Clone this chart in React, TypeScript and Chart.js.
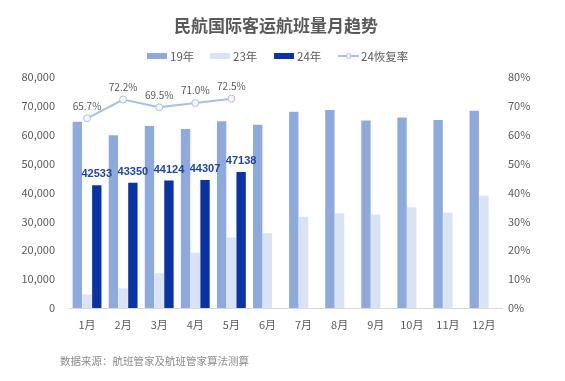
import React, { useEffect, useRef } from "react";
import { Chart, registerables } from "chart.js";
Chart.register(...registerables);

const titleText = "民航国际客运航班量月趋势";
const sourceText = "数据来源：航班管家及航班管家算法测算";
const months = ["1月", "2月", "3月", "4月", "5月", "6月", "7月", "8月", "9月", "10月", "11月", "12月"];
const seriesNames = ["19年", "23年", "24年", "24恢复率"];
const flights2019 = [64500, 59800, 63000, 62000, 64700, 63500, 68000, 68600, 64900, 66000, 65100, 68300];
const flights2023 = [4700, 6800, 12000, 19200, 24400, 25900, 31600, 32800, 32400, 34900, 33100, 38900];
const flights2024 = [42533, 43350, 44124, 44307, 47138, null, null, null, null, null, null, null];
const recovery2024 = [65.7, 72.2, 69.5, 71.0, 72.5, null, null, null, null, null, null, null];

const C19 = "#8eaadc";
const C23 = "#dae3f3";
const C24 = "#0a33a6";
const CLINE = "#a9bfe4";
const FONT = "'Noto Sans CJK SC', 'Noto Sans', sans-serif";
const NUMFONT = "'Liberation Sans', 'DejaVu Sans', sans-serif";

const overlay = {
  id: "overlay",
  afterDraw(chart: any) {
    const ctx = chart.ctx;
    ctx.save();
    // title
    ctx.fillStyle = "#595959";
    ctx.font = `bold 17px ${FONT}`;
    ctx.textAlign = "center";
    ctx.textBaseline = "middle";
    ctx.fillText(titleText, 276, 26);

    // legend
    ctx.font = `11.5px ${FONT}`;
    ctx.textAlign = "left";
    const ly = 56;
    const items = [
      { x: 147, color: C19, type: "box" },
      { x: 210, color: C23, type: "box" },
      { x: 274, color: C24, type: "box" },
      { x: 338, color: CLINE, type: "line" },
    ];
    items.forEach((it, i) => {
      if (it.type === "box") {
        ctx.fillStyle = it.color;
        ctx.fillRect(it.x, ly - 3, 20, 6);
      } else {
        ctx.strokeStyle = it.color;
        ctx.lineWidth = 2;
        ctx.beginPath();
        ctx.moveTo(it.x, ly);
        ctx.lineTo(it.x + 21, ly);
        ctx.stroke();
        ctx.fillStyle = "#fff";
        ctx.lineWidth = 1;
        ctx.beginPath();
        ctx.arc(it.x + 10.5, ly, 2.5, 0, Math.PI * 2);
        ctx.fill();
        ctx.stroke();
      }
      ctx.fillStyle = "#595959";
      ctx.fillText(seriesNames[i], it.x + 23, ly + 1);
    });

    // data labels for 24年
    const m2 = chart.getDatasetMeta(2);
    ctx.font = `bold 11px ${NUMFONT}`;
    ctx.fillStyle = "#1f44ad";
    ctx.textAlign = "center";
    ctx.textBaseline = "middle";
    m2.data.forEach((el: any, i: number) => {
      const v = flights2024[i];
      if (v == null) return;
      ctx.fillText(String(v), el.x, el.y - 11);
    });

    // data labels for line
    const m3 = chart.getDatasetMeta(3);
    ctx.font = `10px ${FONT}`;
    ctx.fillStyle = "#595959";
    m3.data.forEach((el: any, i: number) => {
      const v = recovery2024[i];
      if (v == null) return;
      ctx.fillText(v.toFixed(1) + "%", el.x, el.y - 12.5);
    });

    // source
    ctx.font = `10.5px ${FONT}`;
    ctx.fillStyle = "#8c8c8c";
    ctx.textAlign = "left";
    ctx.fillText(sourceText, 60, 361);
    ctx.restore();
  },
};

export default function App() {
  const ref = useRef<HTMLCanvasElement>(null);
  useEffect(() => {
    if (!ref.current) return;
    const chart = new Chart(ref.current, {
      type: "bar",
      data: {
        labels: months,
        datasets: [
          { label: seriesNames[0], data: flights2019, backgroundColor: C19, yAxisID: "y", order: 2 },
          { label: seriesNames[1], data: flights2023, backgroundColor: C23, yAxisID: "y", order: 2 },
          { label: seriesNames[2], data: flights2024 as any, backgroundColor: C24, yAxisID: "y", order: 2 },
          {
            type: "line",
            label: seriesNames[3],
            data: recovery2024 as any,
            borderColor: CLINE,
            backgroundColor: "#ffffff",
            borderWidth: 2,
            pointRadius: 3.5,
            pointBorderWidth: 1,
            pointBackgroundColor: "#f4f7fc",
            pointBorderColor: CLINE,
            yAxisID: "y1",
            order: 1,
            spanGaps: false,
          } as any,
        ],
      },
      options: {
        responsive: false,
        animation: false,
        maintainAspectRatio: false,
        layout: { padding: { top: 77, left: 0, right: 0, bottom: 0 } },
        datasets: { bar: { categoryPercentage: 0.81, barPercentage: 0.96 } } as any,
        plugins: { legend: { display: false }, title: { display: false }, tooltip: { enabled: false } },
        scales: {
          x: {
            grid: { display: false, drawTicks: false },
            border: { display: true, color: "#d9d9d9" },
            ticks: { color: "#595959", font: { family: FONT, size: 11 }, padding: 10, maxRotation: 0, autoSkip: false },
            afterFit(s: any) { s.height = 73; },
          },
          y: {
            position: "left",
            min: 0,
            max: 80000,
            grid: { display: false, drawTicks: false },
            border: { display: false },
            ticks: {
              stepSize: 10000,
              color: "#595959",
              font: { family: FONT, size: 11 },
              padding: 14,
              callback: (v: any) => Number(v).toLocaleString("en-US"),
            },
            afterFit(s: any) { s.width = 69; },
          },
          y1: {
            position: "right",
            min: 0,
            max: 80,
            grid: { display: false, drawTicks: false },
            border: { display: false },
            ticks: {
              stepSize: 10,
              color: "#595959",
              font: { family: FONT, size: 11 },
              padding: 6,
              callback: (v: any) => v + "%",
            },
            afterFit(s: any) { s.width = 63; },
          },
        },
      },
      plugins: [overlay],
    });
    return () => chart.destroy();
  }, []);
  return (
    <div style={{ position: "fixed", left: 0, top: 0, width: 565, height: 381, background: "#fff" }}>
      <canvas ref={ref} width={565} height={381} />
    </div>
  );
}
